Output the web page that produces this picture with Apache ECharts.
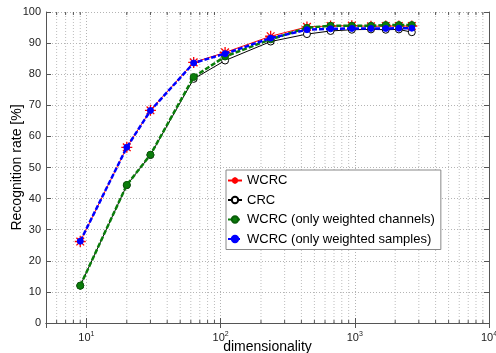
<!DOCTYPE html>
<html><head><meta charset="utf-8">
<script src="https://cdn.jsdelivr.net/npm/echarts@6/dist/echarts.min.js"></script>
<style>html,body{margin:0;padding:0;background:#fff}#c{width:496px;height:353px}</style>
</head><body><div id="c"></div>
<script>
var dims = [9, 20, 30, 63, 108, 236, 440, 660, 950, 1320, 1700, 2130, 2660];
var wcrc = [26.2, 56.5, 68.4, 83.8, 87.0, 92.2, 95.2, 95.5, 95.6, 95.4, 95.5, 95.5, 95.5];
var crc = [12.0, 44.3, 54.0, 78.5, 84.4, 90.5, 92.9, 93.9, 94.3, 94.4, 94.3, 94.4, 93.5];
var wChannels = [12.0, 44.4, 54.1, 79.1, 85.7, 91.2, 94.9, 95.6, 95.6, 95.6, 95.8, 95.8, 95.8];
var wSamples = [26.3, 56.5, 68.3, 83.6, 86.6, 91.6, 94.3, 94.6, 94.7, 94.7, 94.7, 94.8, 94.8];
var seriesNames = ['WCRC', 'CRC', 'WCRC (only weighted channels)', 'WCRC (only weighted samples)'];
var minorX = [6, 7, 8, 9, 20, 30, 40, 50, 60, 70, 80, 90, 200, 300, 400, 500, 600, 700, 800, 900, 2000, 3000, 4000, 5000, 6000, 7000, 8000, 9000];

function pairs(ys){ return dims.map(function(d,i){ return [d, ys[i]]; }); }
var star = 'path://M0,-10L0,10M-10,0L10,0M-7,-7L7,7M-7,7L7,-7';
var font = 'Liberation Sans';

var chart = echarts.init(document.getElementById('c'), null, {renderer:'canvas'});
var axisLineStyle = {color:'#555', width:1};
chart.setOption({
  animation:false,
  textStyle:{fontFamily:font},
  grid:{left:46, right:7, top:12, bottom:30, outerBoundsMode:'none', containLabel:false},
  xAxis:[{
    type:'log', logBase:10, min:5, max:10000,
    name:'dimensionality', nameLocation:'middle', nameGap:17, nameMoveOverlap:false,
    nameTextStyle:{fontSize:14, color:'#000', fontFamily:font},
    axisLine:{lineStyle:axisLineStyle},
    axisTick:{inside:true, length:5, lineStyle:{color:'#555'}},
    axisLabel:{margin:8, color:'#222', fontSize:11, fontFamily:font,
      formatter:function(v){ var e=Math.log10(v); if(Math.abs(e-Math.round(e))>1e-6) return ''; return '10{s|'+Math.round(e)+'}'; },
      rich:{s:{fontSize:7, padding:[0,0,7,0], color:'#222', fontFamily:font}}},
    splitLine:{show:true, lineStyle:{color:'#b4b4b4', type:[1,2], width:1}}
  },{
    type:'log', logBase:10, min:5, max:10000, position:'top',
    axisLine:{lineStyle:axisLineStyle}, axisTick:{inside:true, length:5, lineStyle:{color:'#555'}},
    axisLabel:{show:false}, splitLine:{show:false}
  }],
  yAxis:[{
    type:'value', min:0, max:100, interval:10,
    name:'Recognition rate [%]', nameLocation:'middle', nameGap:22, nameMoveOverlap:false,
    nameTextStyle:{fontSize:14, color:'#000', fontFamily:font},
    axisLine:{show:true, lineStyle:axisLineStyle},
    axisTick:{show:true, inside:true, length:5, lineStyle:{color:'#555'}},
    axisLabel:{margin:5, color:'#222', fontSize:11, fontFamily:font},
    splitLine:{show:true, lineStyle:{color:'#b4b4b4', type:[1,2], width:1}}
  },{
    type:'value', min:0, max:100, interval:10, position:'right',
    axisLine:{show:true, lineStyle:axisLineStyle},
    axisTick:{show:true, inside:true, length:5, lineStyle:{color:'#555'}},
    axisLabel:{show:false}, splitLine:{show:false}
  }],
  legend:{
    orient:'vertical', left:226, top:170, itemGap:6.5, itemWidth:14, itemHeight:8,
    padding:[4,6,4,1],
    backgroundColor:'#fff', borderColor:'#888', borderWidth:1, borderRadius:0,
    textStyle:{fontSize:13, color:'#000', fontFamily:font},
    data:seriesNames
  },
  series:[
    {type:'custom', silent:true, z:1, xAxisIndex:0, yAxisIndex:0,
      data:minorX.map(function(v){ return [v, 0]; }),
      encode:{x:0, y:1},
      renderItem:function(params, api){
        var v = api.value(0);
        var b = api.coord([v, 0]), t = api.coord([v, 100]);
        return {type:'group', children:[
          {type:'line', shape:{x1:b[0], y1:b[1], x2:t[0], y2:t[1]}, style:{stroke:'#bdbdbd', lineWidth:1, lineDash:[1,2]}},
          {type:'line', shape:{x1:b[0], y1:b[1], x2:b[0], y2:b[1]-3}, style:{stroke:'#555', lineWidth:1}},
          {type:'line', shape:{x1:t[0], y1:t[1], x2:t[0], y2:t[1]+3}, style:{stroke:'#555', lineWidth:1}}
        ]};
      }},
    {name:seriesNames[0], type:'line', data:pairs(wcrc), z:3,
      lineStyle:{color:'#ff0000', width:1}, symbol:star, symbolSize:11,
      itemStyle:{color:'#ff0000', borderColor:'#ff0000', borderWidth:1.3}},
    {name:seriesNames[1], type:'line', data:pairs(crc), z:4,
      lineStyle:{color:'#000', width:1}, symbol:'circle', symbolSize:7,
      itemStyle:{color:'#fff', borderColor:'#000', borderWidth:1}},
    {name:seriesNames[2], type:'line', data:pairs(wChannels), z:5,
      lineStyle:{color:'#0a7d0a', width:2.5, type:[5,2]}, symbol:'circle', symbolSize:7,
      itemStyle:{color:'#0a7d0a', borderColor:'#0a5d0a', borderWidth:1}},
    {name:seriesNames[3], type:'line', data:pairs(wSamples), z:6,
      lineStyle:{color:'#0000ff', width:2.5, type:[5,2]}, symbol:'circle', symbolSize:6,
      itemStyle:{color:'#0000ff', borderColor:'#0000ff', borderWidth:1}}
  ]
});
</script></body></html>
